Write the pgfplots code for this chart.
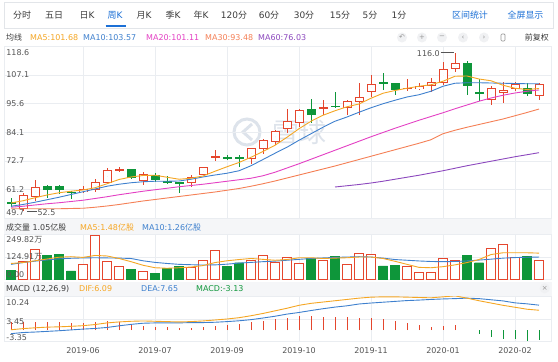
\documentclass[border=0pt]{standalone}
\usepackage{pgfplots}
\pgfplotsset{compat=1.18}
\usepackage{pgfplotstable}
\usepackage{fontspec}
\setmainfont{DejaVu Sans}
\newfontfamily\cjk{Noto Sans CJK SC}
\definecolor{kred}{RGB}{229,70,45}
\definecolor{kgreen}{RGB}{14,150,58}
\definecolor{ma5}{RGB}{245,166,35}
\definecolor{ma10}{RGB}{62,128,206}
\definecolor{ma20}{RGB}{228,64,196}
\definecolor{ma30}{RGB}{245,128,86}
\definecolor{ma60}{RGB}{140,72,190}
\definecolor{gridc}{RGB}{234,237,241}
\definecolor{frame}{RGB}{226,229,233}
\definecolor{txt}{RGB}{60,60,60}
\definecolor{lbl}{RGB}{85,85,85}
\definecolor{tabblue}{RGB}{28,112,214}
\definecolor{strip}{RGB}{245,246,248}
\definecolor{wm}{RGB}{221,227,235}
\definecolor{iconbg}{RGB}{240,241,243}
\definecolor{icon}{RGB}{150,150,150}
\newcommand\fs[1]{\fontsize{#1}{#1}\selectfont}

\pgfplotstableread{
i o c h l
1 53.5 59.1 59.9 52.5
2 58.4 62.4 65.1 56.8
6 60.2 61.4 62.6 60.0
7 61.1 64.4 65.3 60.4
8 63.8 69.1 69.8 63.5
9 69.0 69.5 70.4 68.4
11 64.8 67.4 68.2 63.1
15 63.8 66.2 67.1 62.2
16 67.1 70.2 70.4 66.9
17 74.0 74.4 77.1 72.8
20 73.4 77.8 78.0 71.5
21 77.4 81.1 81.3 75.5
22 80.4 84.7 84.9 79.1
23 85.5 88.5 93.6 84.0
24 87.8 93.2 93.4 86.2
26 93.5 94.3 97.1 91.0
28 93.8 96.8 97.0 90.9
29 96.4 98.1 103.9 91.1
30 100.2 103.6 107.1 98.4
33 101.5 102.0 105.4 100.8
34 101.4 102.7 104.0 101.0
35 102.7 104.2 106.0 100.4
36 104.0 109.4 112.4 103.1
37 109.4 111.8 116.0 108.4
40 97.1 101.8 102.7 95.1
41 100.0 101.1 104.4 96.0
42 101.4 103.5 104.4 100.8
44 98.5 103.6 103.8 97.1
}\redK

\pgfplotstableread{
i o c h l
0 56.4 55.4 57.8 54.4
3 62.7 61.1 62.9 57.8
4 62.7 61.1 62.9 59.5
5 60.4 59.8 60.7 57.4
10 69.5 65.8 69.6 65.6
12 67.0 65.1 67.8 64.4
13 64.5 64.1 66.7 63.5
14 64.0 63.6 64.4 59.8
18 74.0 73.6 75.1 73.1
19 74.0 73.6 75.1 70.2
25 93.6 91.0 97.4 87.9
27 94.7 94.3 100.1 93.8
31 104.2 103.8 107.8 101.1
32 103.8 101.1 104.0 99.1
38 112.0 102.7 112.8 99.1
39 100.3 99.6 105.4 96.7
43 101.8 99.4 103.8 98.8
}\greenK

\pgfplotstableread{
i m5 m10 m20 m30
0 55.9 54.6 54.2 53.6
1 56.8 55.3 54.6 53.6
2 58.0 56.2 55.1 53.6
3 59.1 57.2 55.6 53.6
4 60.0 58.2 56.0 53.6
5 60.6 59.3 56.5 53.7
6 61.1 60.4 57.0 53.8
7 62.0 61.5 57.7 54.2
8 63.6 62.6 58.4 54.7
9 65.3 63.4 59.2 55.3
10 66.3 64.0 59.9 56.0
11 66.9 64.4 60.6 56.7
12 67.0 64.6 61.2 57.3
13 66.2 64.6 61.8 57.9
14 65.4 64.7 62.4 58.5
15 65.8 65.4 62.9 59.1
16 66.7 66.3 63.4 59.7
17 68.6 67.1 64.0 60.3
18 70.4 67.8 64.6 61.0
19 72.1 68.8 65.2 61.7
20 74.2 70.8 65.8 62.6
21 76.5 73.3 66.8 63.6
22 79.0 75.8 68.2 64.7
23 82.2 78.2 69.9 65.9
24 85.6 81.0 71.6 67.1
25 88.6 83.6 73.4 68.3
26 91.0 86.2 75.2 69.5
27 92.8 88.6 77.0 70.7
28 94.4 90.3 78.8 72.0
29 95.5 92.2 80.6 73.3
30 97.8 94.0 82.4 74.6
31 99.8 95.6 84.1 75.9
32 100.9 97.0 85.8 77.2
33 101.8 98.3 87.4 78.5
34 102.6 99.2 89.0 79.8
35 103.2 100.6 90.5 81.2
36 104.6 102.6 92.0 83.6
37 106.6 103.8 93.6 85.0
38 106.7 104.0 95.1 86.2
39 105.5 104.0 96.6 87.3
40 104.8 103.9 97.9 88.4
41 103.0 103.8 99.0 89.5
42 101.8 103.7 99.9 90.8
43 101.3 103.6 100.6 92.1
44 101.68 103.57 101.11 93.48
}\maT

\pgfplotstableread{
i m60
27 62.3
28 62.8
29 63.3
30 63.9
31 64.6
32 65.4
33 66.2
34 67.0
35 67.9
36 68.8
37 69.8
38 70.8
39 71.7
40 72.6
41 73.5
42 74.4
43 75.2
44 76.03
}\maSixty

\pgfplotstableread{
i v
1 100
2 169
6 85
7 250
8 104
9 72
11 48
15 68
16 105
17 164
20 105
21 134
22 96
23 125
24 91
26 109
28 85
29 147
30 143
33 76
34 38
35 42
36 119
37 109
40 175
41 197
42 122
44 105
}\redV

\pgfplotstableread{
i v
0 53
3 134
4 143
5 48
10 57
12 35
13 63
14 72
18 72
19 94
25 119
27 128
31 76
32 81
38 137
39 94
43 128
}\greenV

\pgfplotstableread{
i m5 m10
0 90 85
1 95 95
2 105 103
3 115 110
4 125 116
5 128 119
6 124 121
7 135 122
8 132 121
9 118 120
10 100 118
11 80 105
12 66 96
13 63 90
14 66 85
15 70 83
16 78 81
17 95 82
18 105 86
19 112 92
20 118 96
21 113 100
22 108 103
23 112 108
24 122 113
25 122 118
26 118 121
27 120 124
28 122 126
29 126 128
30 126 126
31 118 120
32 102 112
33 85 108
34 68 104
35 66 101
36 72 100
37 82 101
38 95 104
39 112 109
40 140 114
41 150 120
42 150 123
43 150 125
44 148 126
}\volMA

\pgfplotstableread{
i dif dea hist
0 0.1 -1.1 2.4
1 0.45 -0.75 2.4
2 0.7 -0.6 2.6
3 0.9 -0.4 2.6
4 1.0 -0.2 2.4
5 1.15 0.05 2.2
6 1.35 0.3 2.1
7 1.7 0.5 2.4
8 2.2 0.8 2.8
9 2.5 1.3 2.4
10 2.7 1.75 1.9
11 2.8 2.1 1.4
12 2.7 2.2 1.0
13 2.6 2.2 0.8
14 2.5 2.2 0.6
15 2.6 2.3 0.6
16 2.8 2.3 1.0
17 3.1 2.4 1.4
18 3.4 2.6 1.6
19 3.8 2.85 1.9
20 4.4 3.2 2.4
21 5.1 3.7 2.8
22 5.9 4.25 3.3
23 6.7 4.9 3.6
24 7.6 5.4 4.4
25 8.2 6.0 4.4
26 8.6 6.55 4.1
27 9.0 7.05 3.9
28 9.4 7.45 3.9
29 9.8 8.0 3.6
30 10.1 8.3 3.6
31 10.2 8.55 3.3
32 10.2 8.8 2.8
33 10.1 9.05 2.1
34 10.0 9.2 1.6
35 9.9 9.4 1.0
36 10.2 9.55 1.3
37 10.5 9.65 1.7
38 9.8 9.8 0.0
39 9.0 9.65 -1.3
40 8.3 9.3 -2.0
41 7.6 8.95 -2.7
42 7.0 8.35 -2.7
43 6.4 8.05 -3.3
44 6.09 7.65 -3.13
}\macdT

\pgfplotsset{
  panel/.style={
    scale only axis, width=547.2bp, anchor=north west,
    xmin=-0.55, xmax=45.05,
    axis line style={draw=gridc, line width=0.6pt},
    major tick length=0pt, tick style={draw=none},
    xtick={6,12,18,24,30,36,42}, xticklabels={},
    xmajorgrids, ymajorgrids, grid style={draw=gridc, line width=0.6pt},
    yticklabels={},
  },
  candle/.style={only marks, mark=*, mark size=0pt, mark options={draw=none, fill=none},
    error bars/.cd, y dir=both, y explicit, error mark=none,
    error bar style={#1}},
}
\tikzset{lab/.style={anchor=west, inner sep=0pt, font=\fs{8}, text=lbl}}

\begin{document}
\begin{tikzpicture}[x=1bp,y=1bp]
\path[use as bounding box, fill=white] (0bp,0bp) rectangle (558bp,362bp);

% toolbar
\draw[draw=frame, line width=0.6pt] (4.5bp,334bp) rectangle (553.5bp,359.5bp);
\begin{scope}[font=\fs{9}, text=txt]
\node at (22bp,347bp) {{\cjk 分时}};
\node at (54bp,347bp) {{\cjk 五日}};
\node at (87bp,347bp) {{\cjk 日}K};
\node[text=tabblue] at (115bp,347bp) {{\cjk 周}K};
\node at (144bp,347bp) {{\cjk 月}K};
\node at (173bp,347bp) {{\cjk 季}K};
\node at (201bp,347bp) {{\cjk 年}K};
\node at (234bp,347bp) {120{\cjk 分}};
\node at (269bp,347bp) {60{\cjk 分}};
\node at (304bp,347bp) {30{\cjk 分}};
\node at (340bp,347bp) {15{\cjk 分}};
\node at (370bp,347bp) {5{\cjk 分}};
\node at (399bp,347bp) {1{\cjk 分}};
\node[text=tabblue] at (470bp,347bp) {{\cjk 区间统计}};
\node[text=tabblue] at (525.5bp,347bp) {{\cjk 全屏显示}};
\end{scope}
\draw[tabblue, line width=1.6pt] (105.5bp,336bp) -- (125.5bp,336bp);

% header row
\begin{scope}[font=\fs{8}]
\node[anchor=west, inner sep=0pt, text=txt] at (6bp,324.5bp) {{\cjk 均线}};
\node[anchor=west, inner sep=0pt, text=ma5] at (30bp,324.5bp) {MA5:101.68};
\node[anchor=west, inner sep=0pt, text=ma10] at (83bp,324.5bp) {MA10:103.57};
\node[anchor=west, inner sep=0pt, text=ma20] at (146bp,324.5bp) {MA20:101.11};
\node[anchor=west, inner sep=0pt, text=ma30] at (205bp,324.5bp) {MA30:93.48};
\node[anchor=west, inner sep=0pt, text=ma60] at (258bp,324.5bp) {MA60:76.03};
\node[anchor=east, inner sep=0pt, text=txt] at (549bp,324.5bp) {{\cjk 前复权}};
\end{scope}
\foreach \xx/\sym in {402/↶,422/+,442/−,463/‹,484/›}{
  \node[circle, fill=iconbg, minimum size=10bp, inner sep=0pt, font=\fs{7}, text=icon] at (\xx bp,324.5bp) {\sym};
}
\draw[icon, line width=0.7pt, rounded corners=1pt] (501bp,321bp) rectangle (505bp,328bp);

% strips
\fill[strip] (4.4bp,128bp) rectangle (551.6bp,143.5bp);
\fill[strip] (4.4bp,65.3bp) rectangle (551.6bp,80.3bp);
\begin{scope}[font=\fs{8}]
\node[anchor=west, inner sep=0pt, text=txt] at (6bp,134.5bp) {{\cjk 成交量} 1.05{\cjk 亿股}};
\node[anchor=west, inner sep=0pt, text=ma5] at (80bp,134.5bp) {MA5:1.48{\cjk 亿股}};
\node[anchor=west, inner sep=0pt, text=ma10] at (142bp,134.5bp) {MA10:1.26{\cjk 亿股}};
\node[anchor=west, inner sep=0pt, text=txt] at (6bp,73bp) {MACD (12,26,9)};
\node[anchor=west, inner sep=0pt, text=ma5] at (79bp,73bp) {DIF:6.09};
\node[anchor=west, inner sep=0pt, text=ma10] at (141bp,73bp) {DEA:7.65};
\node[anchor=west, inner sep=0pt, text=kgreen] at (196bp,73bp) {MACD:-3.13};
\end{scope}
\node[circle, fill=iconbg, minimum size=10bp, inner sep=0pt, font=\fs{7}, text=icon] at (544.7bp,73.7bp) {×};

% watermark
\draw[wm, line width=3pt] (247bp,230bp) circle (13bp);
\draw[wm, line width=3pt] (252bp,238bp) -- (243bp,230bp) -- (252bp,222bp);
\node[text=wm, font=\cjk\fs{27}] at (299bp,230bp) {雪球};

% ===== price panel =====
\begin{axis}[panel, at={(4.4bp,315.75bp)}, height=172.25bp,
  ymin=49.7, ymax=118.6, ytick={61.2,72.7,84.1,95.6,107.1}]
% wicks
\addplot[candle={draw=kred, line width=0.9pt}]
  table[x=i, y expr={(\thisrow{h}+\thisrow{l})/2}, y error expr={(\thisrow{h}-\thisrow{l})/2}] {\redK};
\addplot[candle={draw=kgreen, line width=0.9pt}]
  table[x=i, y expr={(\thisrow{h}+\thisrow{l})/2}, y error expr={(\thisrow{h}-\thisrow{l})/2}] {\greenK};
% bodies
\addplot[candle={draw=kred, line width=9bp, line cap=butt}]
  table[x=i, y expr={(\thisrow{o}+\thisrow{c})/2}, y error expr={max(abs(\thisrow{c}-\thisrow{o})/2,0.3)}] {\redK};
\addplot[candle={draw=white, line width=7bp, line cap=butt}]
  table[x=i, y expr={(\thisrow{o}+\thisrow{c})/2}, y error expr={max(abs(\thisrow{c}-\thisrow{o})/2-0.4,0)}] {\redK};
\addplot[candle={draw=kgreen, line width=9bp, line cap=butt}]
  table[x=i, y expr={(\thisrow{o}+\thisrow{c})/2}, y error expr={max(abs(\thisrow{c}-\thisrow{o})/2,0.3)}] {\greenK};
% moving averages
\addplot[ma30, line width=0.9pt, no marks] table[x=i, y=m30] {\maT};
\addplot[ma20, line width=0.9pt, no marks] table[x=i, y=m20] {\maT};
\addplot[ma60, line width=0.9pt, no marks] table[x=i, y=m60] {\maSixty};
\addplot[ma10, line width=0.9pt, no marks] table[x=i, y=m10] {\maT};
\addplot[ma5, line width=0.9pt, no marks] table[x=i, y=m5] {\maT};
% labels
\node[lab] at (axis cs:-0.4,116.0) {118.6};
\node[lab] at (axis cs:-0.4,107.1) {107.1};
\node[lab] at (axis cs:-0.4,95.6) {95.6};
\node[lab] at (axis cs:-0.4,84.1) {84.1};
\node[lab] at (axis cs:-0.4,72.7) {72.7};
\node[lab] at (axis cs:-0.4,61.2) {61.2};
\node[lab] at (axis cs:-0.4,51.9) {49.7};
\draw[lbl, line width=0.6pt] (axis cs:1.35,52.5) -- (axis cs:2.15,52.5);
\node[lab] at (axis cs:2.2,52.2) {52.5};
\draw[lbl, line width=0.6pt] (axis cs:35.8,116.0) -- (axis cs:36.95,116.0);
\node[lab, anchor=east] at (axis cs:35.75,115.6) {116.0};
\end{axis}

% ===== volume panel =====
\begin{axis}[panel, at={(4.4bp,128bp)}, height=45.5bp,
  ymin=0, ymax=255.3, ytick={124.91}]
\addplot[ybar, bar width=9bp, bar shift=0pt, draw=kred, fill=white, line width=0.8pt] table[x=i, y=v] {\redV};
\addplot[ybar, bar width=9bp, bar shift=0pt, draw=kgreen, fill=kgreen] table[x=i, y=v] {\greenV};
\addplot[ma10, line width=0.9pt, no marks] table[x=i, y=m10] {\volMA};
\addplot[ma5, line width=0.9pt, no marks] table[x=i, y=m5] {\volMA};
\node[lab] at (axis cs:-0.4,221.6) {249.82{\cjk 万}};
\node[lab] at (axis cs:-0.4,124.91) {124.91{\cjk 万}};
\node[lab] at (axis cs:-0.4,25) {0.00};
\end{axis}

% ===== MACD panel =====
\begin{axis}[panel, at={(4.4bp,65.3bp)}, height=44.3bp,
  ymin=-3.35, ymax=10.24, ytick={3.45},
  xticklabels={2019-06,2019-07,2019-09,2019-10,2019-11,2020-01,2020-02},
  xticklabel style={font=\fs{8}, text=lbl, inner sep=0pt, yshift=-6bp}]
\addplot[ycomb, kred, line width=0.9pt, no marks, restrict y to domain=0.01:20] table[x=i, y=hist] {\macdT};
\addplot[ycomb, kgreen, line width=0.9pt, no marks, restrict y to domain=-20:-0.01] table[x=i, y=hist] {\macdT};
\addplot[ma10, line width=0.9pt, no marks] table[x=i, y=dea] {\macdT};
\addplot[ma5, line width=0.9pt, no marks] table[x=i, y=dif] {\macdT};
\node[lab] at (axis cs:-0.4,8.53) {10.24};
\node[lab] at (axis cs:-0.4,2.58) {3.45};
\node[lab] at (axis cs:-0.4,-2.2) {-3.35};
\end{axis}
\end{tikzpicture}
\end{document}
